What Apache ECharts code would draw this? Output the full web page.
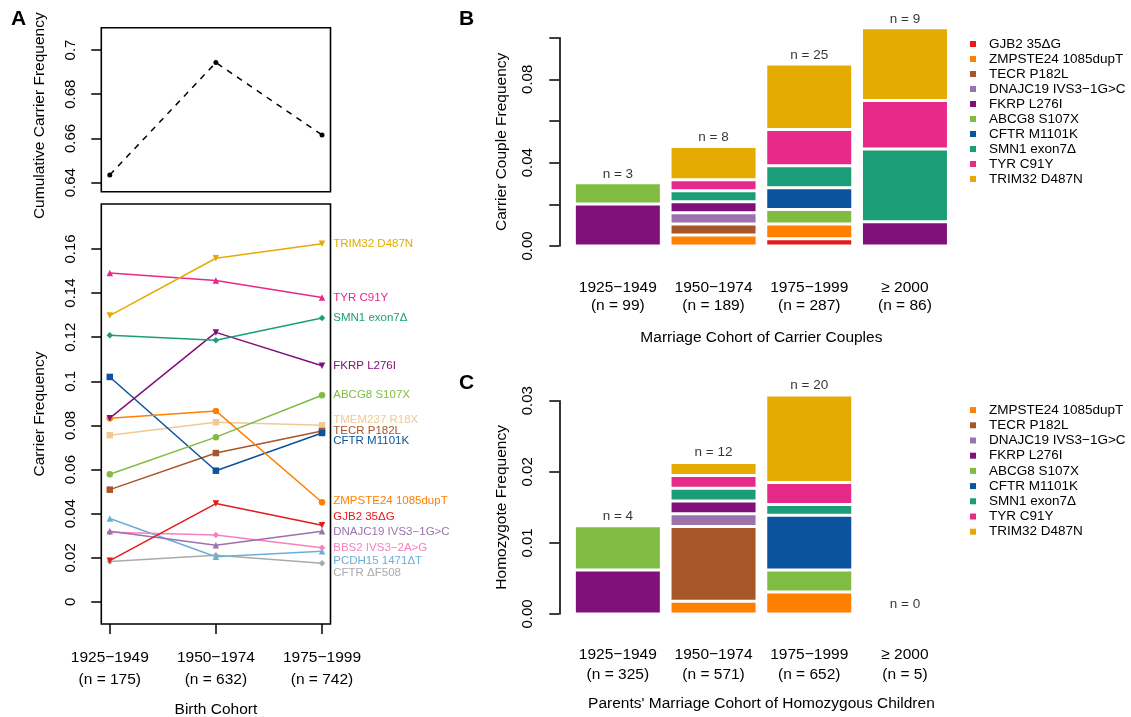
<!DOCTYPE html>
<html><head><meta charset="utf-8">
<script src="https://cdn.jsdelivr.net/npm/echarts@6/dist/echarts.min.js"></script>
<style>html,body{margin:0;padding:0;background:#fff}#c{width:1131px;height:717px}</style>
</head><body><div id="c"></div>
<script>
// ---------------- Panel A data ----------------
const birthCohorts = ['1925−1949\n(n = 175)', '1950−1974\n(n = 632)', '1975−1999\n(n = 742)'];
const cohortPos = [1, 2, 3];
const cumulativeFreq = [0.6435, 0.6943, 0.6616];
const cumTicks = [0.64, 0.66, 0.68, 0.70];
const carrierTicks = [0, 0.02, 0.04, 0.06, 0.08, 0.10, 0.12, 0.14, 0.16];

const aTRIM32 = [0.1298, 0.1558, 0.1624];
const aTYR = [0.1491, 0.1457, 0.1380];
const aSMN1 = [0.1209, 0.1186, 0.1287];
const aFKRP = [0.0833, 0.1222, 0.1071];
const aABCG8 = [0.0579, 0.0747, 0.0937];
const aTMEM237 = [0.0756, 0.0815, 0.0801];
const aTECR = [0.0509, 0.0675, 0.0775];
const aCFTRM = [0.1020, 0.0595, 0.0766];
const aZMPSTE24 = [0.0833, 0.0866, 0.0452];
const aGJB2 = [0.0187, 0.0446, 0.0348];
const aDNAJC19 = [0.0320, 0.0257, 0.0320];
const aBBS2 = [0.0316, 0.0304, 0.0246];
const aPCDH15 = [0.0378, 0.0205, 0.0230];
const aCFTRdF = [0.0183, 0.0212, 0.0175];

// ---------------- Panel B data ----------------
const marriageCohortsB = ['1925−1949\n(n = 99)', '1950−1974\n(n = 189)', '1975−1999\n(n = 287)', '≥ 2000\n(n = 86)'];
const couplesB = ['n = 3', 'n = 8', 'n = 25', 'n = 9'];
const bGJB2 = [0, 0, 0.0035, 0];
const bZMPSTE24 = [0, 0.0053, 0.0070, 0];
const bTECR = [0, 0.0053, 0, 0];
const bDNAJC19 = [0, 0.0053, 0, 0];
const bFKRP = [0.0202, 0.0053, 0, 0.0116];
const bABCG8 = [0.0101, 0, 0.0070, 0];
const bCFTRM = [0, 0, 0.0105, 0];
const bSMN1 = [0, 0.0053, 0.0105, 0.0349];
const bTYR = [0, 0.0053, 0.0174, 0.0233];
const bTRIM32 = [0, 0.0159, 0.0314, 0.0349];
const bTicks = [0, 0.02, 0.04, 0.06, 0.08, 0.10];
const bTickLabels = [0, 0.04, 0.08];

// ---------------- Panel C data ----------------
const marriageCohortsC = ['1925−1949\n(n = 325)', '1950−1974\n(n = 571)', '1975−1999\n(n = 652)', '≥ 2000\n(n = 5)'];
const homozygotesC = ['n = 4', 'n = 12', 'n = 20', 'n = 0'];
const cZMPSTE24 = [0, 0.0018, 0.0031, 0];
const cTECR = [0, 0.0105, 0, 0];
const cDNAJC19 = [0, 0.0018, 0, 0];
const cFKRP = [0.0062, 0.0018, 0, 0];
const cABCG8 = [0.0062, 0, 0.0031, 0];
const cCFTRM = [0, 0, 0.0077, 0];
const cSMN1 = [0, 0.0018, 0.0015, 0];
const cTYR = [0, 0.0018, 0.0031, 0];
const cTRIM32 = [0, 0.0018, 0.0123, 0];
const cTicks = [0, 0.01, 0.02, 0.03];

// ---------------- styles ----------------
const FONT = '"Liberation Sans", Arial, Helvetica, sans-serif';
const col = {
  'GJB2 35ΔG': '#E41A1C', 'ZMPSTE24 1085dupT': '#FF7F00', 'TECR P182L': '#A65628',
  'DNAJC19 IVS3−1G>C': '#9B72AE', 'FKRP L276I': '#80107A', 'ABCG8 S107X': '#7FBC41',
  'CFTR M1101K': '#0B539C', 'SMN1 exon7Δ': '#1B9E77', 'TYR C91Y': '#E7298A',
  'TRIM32 D487N': '#E6AB02', 'TMEM237 R18X': '#F0C996', 'BBS2 IVS3−2A>G': '#F781BF',
  'PCDH15 1471ΔT': '#6BAED6', 'CFTR ΔF508': '#AAAAAA'
};
// [name, data, symbol, rotate, label dy]
const linesA = [
  ['CFTR ΔF508', aCFTRdF, 'diamond', 0, 9],
  ['PCDH15 1471ΔT', aPCDH15, 'triangle', 0, 9.5],
  ['BBS2 IVS3−2A>G', aBBS2, 'diamond', 0, 0],
  ['DNAJC19 IVS3−1G>C', aDNAJC19, 'triangle', 0, 0],
  ['GJB2 35ΔG', aGJB2, 'triangle', 180, -8],
  ['TMEM237 R18X', aTMEM237, 'rect', 0, -5],
  ['TECR P182L', aTECR, 'rect', 0, 0],
  ['CFTR M1101K', aCFTRM, 'rect', 0, 8],
  ['ZMPSTE24 1085dupT', aZMPSTE24, 'circle', 0, -1],
  ['ABCG8 S107X', aABCG8, 'circle', 0, 0],
  ['FKRP L276I', aFKRP, 'triangle', 180, 0],
  ['SMN1 exon7Δ', aSMN1, 'diamond', 0, 0],
  ['TYR C91Y', aTYR, 'triangle', 0, 0],
  ['TRIM32 D487N', aTRIM32, 'triangle', 180, 0]
];
const stackB = [
  ['GJB2 35ΔG', bGJB2], ['ZMPSTE24 1085dupT', bZMPSTE24], ['TECR P182L', bTECR],
  ['DNAJC19 IVS3−1G>C', bDNAJC19], ['FKRP L276I', bFKRP], ['ABCG8 S107X', bABCG8],
  ['CFTR M1101K', bCFTRM], ['SMN1 exon7Δ', bSMN1], ['TYR C91Y', bTYR], ['TRIM32 D487N', bTRIM32]
];
const stackC = [
  ['ZMPSTE24 1085dupT', cZMPSTE24], ['TECR P182L', cTECR], ['DNAJC19 IVS3−1G>C', cDNAJC19],
  ['FKRP L276I', cFKRP], ['ABCG8 S107X', cABCG8], ['CFTR M1101K', cCFTRM],
  ['SMN1 exon7Δ', cSMN1], ['TYR C91Y', cTYR], ['TRIM32 D487N', cTRIM32]
];

const fmt = v => String(Math.round(v * 1000) / 1000);
const tickStyle = { show: true, length: 10, lineStyle: { color: '#000', width: 1.5 } };
const border = { show: true, borderColor: '#000', borderWidth: 1.6, backgroundColor: 'transparent' };

const series = [];
// top A
series.push({
  type: 'line', xAxisIndex: 0, yAxisIndex: 0, symbol: 'circle', symbolSize: 5,
  itemStyle: { color: '#000' }, lineStyle: { color: '#000', width: 1.5, type: [6, 6] },
  data: cohortPos.map((x, i) => [x, cumulativeFreq[i]])
});
// lower A
linesA.forEach(([name, arr, sym, rot, dy]) => {
  series.push({
    type: 'line', name, xAxisIndex: 1, yAxisIndex: 1, symbol: sym, symbolRotate: rot, symbolSize: 6.5,
    itemStyle: { color: col[name] }, lineStyle: { color: col[name], width: 1.5 },
    data: cohortPos.map((x, i) => i === cohortPos.length - 1
      ? { value: [x, arr[i]], label: { show: true, position: 'right', distance: 8, offset: [0, dy],
          formatter: name, color: col[name], fontSize: 11.5, fontFamily: FONT } }
      : [x, arr[i]])
  });
});
// B bars
stackB.forEach(([name, arr]) => {
  series.push({ type: 'bar', name, stack: 'B', xAxisIndex: 2, yAxisIndex: 2, barWidth: 87,
    itemStyle: { color: col[name], borderColor: '#fff', borderWidth: 1.5 }, data: arr });
});
const totB = marriageCohortsB.map((_, i) => stackB.reduce((s, [, a]) => s + a[i], 0));
series.push({ type: 'scatter', xAxisIndex: 2, yAxisIndex: 2, symbolSize: 0, silent: true,
  data: totB, label: { show: true, position: 'top', distance: 2, fontSize: 13.5, color: '#000', fontFamily: FONT,
  formatter: p => couplesB[p.dataIndex] } });
// C bars
stackC.forEach(([name, arr]) => {
  series.push({ type: 'bar', name, stack: 'C', xAxisIndex: 4, yAxisIndex: 4, barWidth: 87,
    itemStyle: { color: col[name], borderColor: '#fff', borderWidth: 1.5 }, data: arr });
});
const totC = marriageCohortsC.map((_, i) => stackC.reduce((s, [, a]) => s + a[i], 0));
series.push({ type: 'scatter', xAxisIndex: 4, yAxisIndex: 4, symbolSize: 0, silent: true,
  data: totC, label: { show: true, position: 'top', distance: 3, fontSize: 13.5, color: '#000', fontFamily: FONT,
  formatter: p => homozygotesC[p.dataIndex] } });

const hiddenX = { type: 'value', show: false, min: 0, max: 1 };
const catX = (gi, labels, name, lh, margin, gap) => ({
  type: 'category', gridIndex: gi, data: labels, axisLine: { show: false, onZero: false }, axisTick: { show: false },
  axisLabel: { fontSize: 15.5, lineHeight: lh, margin, color: '#000', fontFamily: FONT, interval: 0 },
  name, nameLocation: 'middle', nameGap: gap, nameTextStyle: { fontSize: 15.5, color: '#000', fontFamily: FONT }
});
const G = o => Object.assign({ outerBoundsMode: 'none', containLabel: false }, o);

const option = {
  animation: false,
  backgroundColor: '#fff',
  textStyle: { fontFamily: FONT },
  grid: [
    G(Object.assign({ left: 101.3, width: 229.2, top: 27.7, height: 164 }, border)),
    G(Object.assign({ left: 101.3, width: 229.2, top: 204, height: 420 }, border)),
    G({ left: 570, width: 382.8, top: 16.8, height: 229.2 }),
    G({ left: 559.3, width: 1, top: 37.7, height: 208.3 }),
    G({ left: 570, width: 382.8, top: 372.3, height: 241.7 }),
    G({ left: 559.3, width: 1, top: 400.7, height: 213.3 })
  ],
  xAxis: [
    { type: 'value', gridIndex: 0, min: 0.92, max: 3.08, axisLine: { show: false, onZero: false }, axisTick: { show: false },
      axisLabel: { show: false }, splitLine: { show: false } },
    { type: 'value', gridIndex: 1, min: 0.92, max: 3.08, axisLine: { show: false, onZero: false }, splitLine: { show: false },
      axisTick: Object.assign({ customValues: cohortPos }, tickStyle),
      axisLabel: { customValues: cohortPos, formatter: v => birthCohorts[Math.round(v) - 1],
        fontSize: 15.5, lineHeight: 21.6, margin: 23, color: '#000', fontFamily: FONT },
      name: 'Birth Cohort', nameLocation: 'middle', nameGap: 78,
      nameTextStyle: { fontSize: 15.5, color: '#000', fontFamily: FONT } },
    catX(2, marriageCohortsB, 'Marriage Cohort of Carrier Couples', 18, 33, 84),
    Object.assign({ gridIndex: 3 }, hiddenX),
    catX(4, marriageCohortsC, "Parents' Marriage Cohort of Homozygous Children", 20, 30.5, 81.5),
    Object.assign({ gridIndex: 5 }, hiddenX)
  ],
  yAxis: [
    { type: 'value', gridIndex: 0, min: 0.6359, max: 0.7101, axisLine: { show: false, onZero: false }, splitLine: { show: false },
      axisTick: Object.assign({ customValues: cumTicks }, tickStyle),
      axisLabel: { customValues: cumTicks, formatter: fmt, rotate: 90, fontSize: 15, margin: 23, color: '#000', fontFamily: FONT },
      name: 'Cumulative Carrier Frequency', nameLocation: 'middle', nameGap: 53.5, nameRotate: 90,
      nameTextStyle: { fontSize: 15.5, color: '#000', fontFamily: FONT, padding: [0, 12, 0, 0] } },
    { type: 'value', gridIndex: 1, min: -0.01, max: 0.1804, axisLine: { show: false, onZero: false }, splitLine: { show: false },
      axisTick: Object.assign({ customValues: carrierTicks }, tickStyle),
      axisLabel: { customValues: carrierTicks, formatter: fmt, rotate: 90, fontSize: 15, margin: 23, color: '#000', fontFamily: FONT },
      name: 'Carrier Frequency', nameLocation: 'middle', nameGap: 53.5, nameRotate: 90,
      nameTextStyle: { fontSize: 15.5, color: '#000', fontFamily: FONT } },
    { type: 'value', gridIndex: 2, min: 0, max: 0.11, show: false },
    { type: 'value', gridIndex: 3, min: 0, max: 0.1, splitLine: { show: false },
      axisLine: { show: true, onZero: false, lineStyle: { color: '#000', width: 1.6 } },
      axisTick: Object.assign({ customValues: bTicks }, tickStyle),
      axisLabel: { customValues: bTickLabels, formatter: v => v.toFixed(2), rotate: 90, fontSize: 15, margin: 24, color: '#000', fontFamily: FONT },
      name: 'Carrier Couple Frequency', nameLocation: 'middle', nameGap: 50, nameRotate: 90,
      nameTextStyle: { fontSize: 15.5, color: '#000', fontFamily: FONT } },
    { type: 'value', gridIndex: 4, min: 0, max: 0.034, show: false },
    { type: 'value', gridIndex: 5, min: 0, max: 0.03, splitLine: { show: false },
      axisLine: { show: true, onZero: false, lineStyle: { color: '#000', width: 1.6 } },
      axisTick: Object.assign({ customValues: cTicks }, tickStyle),
      axisLabel: { customValues: cTicks, formatter: v => v.toFixed(2), rotate: 90, fontSize: 15, margin: 24, color: '#000', fontFamily: FONT },
      name: 'Homozygote Frequency', nameLocation: 'middle', nameGap: 50, nameRotate: 90,
      nameTextStyle: { fontSize: 15.5, color: '#000', fontFamily: FONT } }
  ],
  legend: [
    { orient: 'vertical', left: 970, top: 36.5, padding: 0, itemGap: 0, itemWidth: 6, itemHeight: 6, icon: 'rect',
      selectedMode: false, data: stackB.map(s => s[0]),
      textStyle: { fontSize: 13.5, lineHeight: 15, color: '#000', fontFamily: FONT, padding: [0, 0, 0, 8] } },
    { orient: 'vertical', left: 970, top: 402.5, padding: 0, itemGap: 0, itemWidth: 6, itemHeight: 6, icon: 'rect',
      selectedMode: false, data: stackC.map(s => s[0]),
      textStyle: { fontSize: 13.5, lineHeight: 15.2, color: '#000', fontFamily: FONT, padding: [0, 0, 0, 8] } }
  ],
  graphic: [
    { type: 'text', left: 11, top: 9, style: { text: 'A', fontSize: 21, fontWeight: 'bold', fill: '#000', fontFamily: FONT } },
    { type: 'text', left: 459, top: 9, style: { text: 'B', fontSize: 21, fontWeight: 'bold', fill: '#000', fontFamily: FONT } },
    { type: 'text', left: 459, top: 373, style: { text: 'C', fontSize: 21, fontWeight: 'bold', fill: '#000', fontFamily: FONT } }
  ],
  series
};
const chart = echarts.init(document.getElementById('c'), null, { renderer: 'canvas' });
chart.setOption(option);
</script></body></html>
